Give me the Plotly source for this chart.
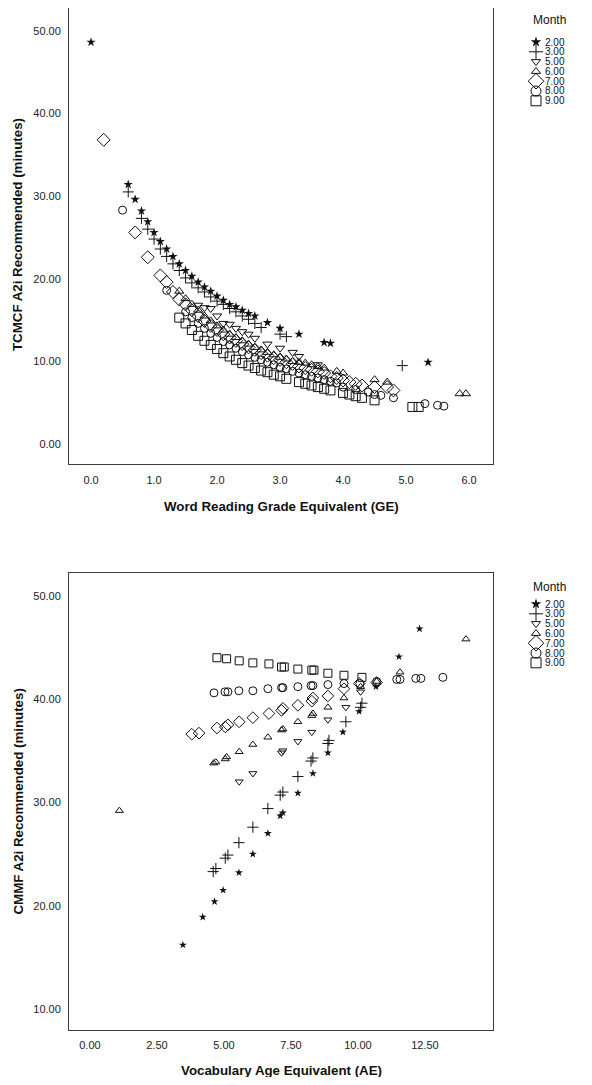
import plotly.graph_objects as go

# ---------------- data: top panel (Word Reading GE vs TCMCF minutes) ----------------
months = ["2.00", "3.00", "5.00", "6.00", "7.00", "8.00", "9.00"]

t2_x = [0.0, 0.59, 0.70, 0.80, 0.90, 1.0, 1.1, 1.2, 1.3, 1.4, 1.5, 1.6, 1.7, 1.8, 1.9, 2.0,
        2.1, 2.2, 2.3, 2.4, 2.5, 2.6, 2.8, 3.0, 3.3, 3.7, 3.8, 5.35]
t2_y = [48.6, 31.4, 29.6, 28.2, 26.9, 25.6, 24.5, 23.6, 22.7, 21.8, 21.0, 20.3, 19.6, 19.0, 18.5, 17.9,
        17.4, 16.9, 16.6, 16.2, 15.8, 15.5, 14.7, 14.0, 13.3, 12.3, 12.2, 9.9]

t3_x = [0.59, 0.80, 0.90, 1.0, 1.1, 1.2, 1.3, 1.4, 1.5, 1.6, 1.7, 1.8, 1.9, 2.0, 2.1, 2.2,
        2.3, 2.4, 2.5, 2.6, 2.7, 3.0, 3.1, 4.94]
t3_y = [30.5, 27.3, 26.0, 24.8, 23.6, 22.7, 21.8, 21.0, 20.1, 19.5, 18.9, 18.4, 17.8, 17.3, 16.9, 16.4,
        16.0, 15.5, 15.1, 14.6, 14.1, 13.3, 13.0, 9.5]

t5_x = [1.7, 1.8, 1.9, 2.0, 2.1, 2.2, 2.3, 2.4, 2.5, 2.6, 2.8, 3.0, 3.2, 3.3, 3.6]
t5_y = [16.8, 16.5, 16.4, 15.5, 14.6, 14.5, 14.0, 13.6, 13.3, 12.8, 12.1, 11.6, 11.1, 10.6, 9.6]

t6_x = [1.4, 1.5, 1.6, 1.7, 1.8, 1.9, 2.0, 2.1, 2.2, 2.3, 2.4, 2.5, 2.6, 2.7, 2.8, 2.9,
        3.0, 3.1, 3.2, 3.3, 3.4, 3.5, 3.6, 3.7, 3.9, 4.0, 4.5, 4.7, 5.85, 5.95]
t6_y = [18.5, 17.6, 16.9, 16.2, 15.5, 14.9, 14.3, 13.8, 13.3, 12.9, 12.5, 12.1, 11.7, 11.4, 11.1, 10.8,
        10.5, 10.3, 10.0, 9.9, 9.8, 9.6, 9.4, 9.2, 8.8, 8.6, 7.8, 7.5, 6.1, 6.1]

t7_x = [0.2, 0.7, 0.9, 1.1, 1.2, 1.3, 1.4, 1.5, 1.6, 1.7, 1.8, 1.9, 2.0, 2.1, 2.2, 2.3,
        2.4, 2.5, 2.6, 2.7, 2.8, 2.9, 3.0, 3.1, 3.2, 3.3, 3.4, 3.5, 3.6, 3.7, 3.8, 3.9,
        4.0, 4.1, 4.2, 4.3, 4.5, 4.7, 4.8]
t7_y = [36.8, 25.6, 22.6, 20.4, 19.6, 18.4, 17.5, 16.9, 16.2, 15.5, 14.9, 14.3, 13.8, 13.3, 12.9, 12.5,
        12.1, 11.7, 11.4, 11.0, 10.7, 10.4, 10.2, 9.9, 9.7, 9.4, 9.2, 9.0, 8.8, 8.6, 8.2, 8.0,
        7.7, 7.5, 7.3, 7.1, 6.9, 6.9, 6.5]

t8_x = [0.5, 1.2, 1.5, 1.6, 1.7, 1.8, 1.9, 2.0, 2.1, 2.2, 2.3, 2.4, 2.5, 2.6, 2.7, 2.8,
        2.9, 3.0, 3.1, 3.2, 3.3, 3.4, 3.5, 3.6, 3.7, 3.8, 3.9, 4.0, 4.2, 4.4, 4.5, 4.6,
        4.8, 5.3, 5.5, 5.6]
t8_y = [28.3, 18.6, 16.0, 15.3, 14.6, 14.0, 13.4, 12.9, 12.4, 12.0, 11.6, 11.2, 10.8, 10.5, 10.2, 9.9,
        9.6, 9.3, 9.1, 8.8, 8.6, 8.4, 8.2, 8.0, 7.8, 7.6, 7.4, 6.9, 6.6, 6.3, 6.0, 5.9,
        5.6, 4.9, 4.7, 4.6]

t9_x = [1.4, 1.5, 1.6, 1.7, 1.8, 1.9, 2.0, 2.1, 2.2, 2.3, 2.4, 2.5, 2.6, 2.7, 2.8, 2.9,
        3.0, 3.1, 3.3, 3.4, 3.5, 3.6, 3.7, 3.8, 4.0, 4.1, 4.2, 4.3, 4.5, 5.1, 5.2]
t9_y = [15.3, 14.6, 13.8, 13.1, 12.5, 12.0, 11.5, 11.0, 10.6, 10.2, 9.8, 9.5, 9.2, 8.9, 8.7, 8.4,
        8.2, 7.9, 7.5, 7.3, 7.1, 6.9, 6.7, 6.5, 6.2, 6.0, 5.8, 5.6, 5.3, 4.5, 4.5]

# ---------------- data: bottom panel (Vocabulary AE vs CMMF minutes) ----------------
b2_x = [3.47, 4.21, 4.65, 4.97, 5.56, 6.08, 6.64, 7.10, 7.20, 7.76, 8.32, 8.88, 9.44, 10.04, 10.67, 11.53, 12.30]
b2_y = [16.2, 18.9, 20.4, 21.5, 23.2, 25.0, 27.0, 28.7, 29.0, 30.9, 32.8, 34.8, 36.8, 38.8, 41.2, 44.1, 46.8]

b3_x = [4.60, 4.70, 5.05, 5.15, 5.56, 6.08, 6.64, 7.10, 7.20, 7.76, 8.25, 8.32, 8.88, 8.92, 9.55, 10.10, 10.15]
b3_y = [23.3, 23.6, 24.6, 24.9, 26.1, 27.6, 29.4, 30.7, 31.0, 32.5, 34.0, 34.3, 35.7, 36.0, 37.8, 39.2, 39.6]

b5_x = [5.57, 6.08, 7.15, 7.20, 7.76, 8.28, 8.88, 9.55, 10.10]
b5_y = [32.0, 32.8, 34.8, 35.0, 35.9, 36.8, 38.0, 39.2, 40.7]

b6_x = [1.10, 4.62, 4.70, 5.05, 5.10, 5.57, 6.08, 6.64, 7.15, 7.20, 7.76, 8.28, 8.32, 8.88, 9.48, 10.10, 10.70, 11.57, 14.03]
b6_y = [29.2, 33.8, 33.9, 34.2, 34.4, 34.9, 35.6, 36.3, 37.0, 37.1, 37.8, 38.4, 38.6, 39.2, 40.1, 41.2, 41.7, 42.6, 45.8]

b7_x = [3.80, 4.07, 4.74, 5.05, 5.15, 5.57, 6.08, 6.68, 7.15, 7.20, 7.76, 8.28, 8.32, 8.88, 9.48, 10.05, 10.70]
b7_y = [36.6, 36.7, 37.2, 37.3, 37.5, 37.8, 38.2, 38.6, 38.9, 39.1, 39.4, 39.8, 40.1, 40.3, 41.0, 41.5, 41.6]

b8_x = [4.63, 5.04, 5.15, 5.56, 6.08, 6.64, 7.15, 7.20, 7.76, 8.25, 8.32, 8.88, 9.48, 10.07, 10.70,
        11.45, 11.57, 12.16, 12.35, 13.17]
b8_y = [40.6, 40.7, 40.7, 40.8, 40.8, 41.0, 41.1, 41.1, 41.2, 41.3, 41.3, 41.4, 41.5, 41.5, 41.7,
        41.9, 41.9, 42.0, 42.0, 42.1]

b9_x = [4.74, 5.10, 5.57, 6.08, 6.68, 7.15, 7.25, 7.76, 8.28, 8.36, 8.88, 9.48, 10.15]
b9_y = [44.0, 43.9, 43.7, 43.5, 43.4, 43.1, 43.1, 42.9, 42.8, 42.8, 42.5, 42.3, 42.1]

top_x_ticks = [0.0, 1.0, 2.0, 3.0, 4.0, 5.0, 6.0]
top_y_ticks = [0.0, 10.0, 20.0, 30.0, 40.0, 50.0]
bot_x_ticks = [0.0, 2.5, 5.0, 7.5, 10.0, 12.5]
bot_y_ticks = [10.0, 20.0, 30.0, 40.0, 50.0]

# ---------------- styling / page geometry ----------------
PAGE_W, PAGE_H = 592, 1085
BODY = 8                       # default html body margin around the plot div
W, H = PAGE_W - 2 * BODY, PAGE_H - 2 * BODY
FONT = "Liberation Sans, Arial, Helvetica, sans-serif"
INK = "#111111"
FRAME = "#3a3a3a"

symbols = ["star", "cross-thin-open", "triangle-down-open", "triangle-up-open",
           "diamond-open", "circle-open", "square-open"]
top_sizes = [7, 8, 8, 8, 10, 8, 9]
bot_sizes = [6, 8, 7, 7, 9, 8, 8]
leg_sizes = [8, 10, 8, 8, 12, 10, 10]


def marker(i, size):
    if symbols[i] == "star":
        return dict(symbol="star", size=size, color=INK, line=dict(width=0))
    return dict(symbol=symbols[i], size=size, color=INK, line=dict(color=INK, width=1))


fig = go.Figure()

top_series = [(t2_x, t2_y), (t3_x, t3_y), (t5_x, t5_y), (t6_x, t6_y),
              (t7_x, t7_y), (t8_x, t8_y), (t9_x, t9_y)]
bot_series = [(b2_x, b2_y), (b3_x, b3_y), (b5_x, b5_y), (b6_x, b6_y),
              (b7_x, b7_y), (b8_x, b8_y), (b9_x, b9_y)]

for i, (xs, ys) in enumerate(top_series):
    fig.add_trace(go.Scatter(x=xs, y=ys, mode="markers", name=months[i],
                             marker=marker(i, top_sizes[i]), showlegend=False,
                             xaxis="x", yaxis="y"))
for i, (xs, ys) in enumerate(bot_series):
    fig.add_trace(go.Scatter(x=xs, y=ys, mode="markers", name=months[i],
                             marker=marker(i, bot_sizes[i]), showlegend=False,
                             xaxis="x2", yaxis="y2"))

# page-pixel layout of the two frames
PL, PR = 69, 493
TOP_T, TOP_B = 8, 464
BOT_T, BOT_B = 573, 1030


def px_x(p):
    return min(1.0, max(0.0, (p - BODY) / W))


def px_y(p):
    return min(1.0, max(0.0, 1 - (p - BODY) / H))


# manual legends (legend symbol positions in page-pixel space via helper axis)
LEG_MARK_X = 536
LEG_TEXT_X = 543
LEG_TITLE_X = 531
LEG_STEP = 9.8
legends = [(20, 42), (587, 604)]  # (title y, first item y)

annotations = []
for (ty, iy) in legends:
    annotations.append(dict(text="Month", x=px_x(LEG_TITLE_X), y=px_y(ty), xref="paper", yref="paper",
                            xanchor="left", yanchor="middle", showarrow=False,
                            font=dict(family=FONT, size=12, color=INK)))
    for i, m in enumerate(months):
        yy = iy + i * LEG_STEP
        annotations.append(dict(text=m, x=px_x(LEG_TEXT_X), y=px_y(yy), xref="paper", yref="paper",
                                xanchor="left", yanchor="middle", showarrow=False,
                                font=dict(family=FONT, size=10, color=INK)))
        fig.add_trace(go.Scatter(x=[LEG_MARK_X], y=[yy], mode="markers",
                                 marker=marker(i, leg_sizes[i]), showlegend=False,
                                 hoverinfo="skip", xaxis="x3", yaxis="y3"))

# axis titles
TITLE_SIZE = 13.3
annotations += [
    dict(text="<b>Word Reading Grade Equivalent (GE)</b>", x=px_x((PL + PR) / 2), y=px_y(507),
         xref="paper", yref="paper", showarrow=False, xanchor="center", yanchor="middle",
         font=dict(family=FONT, size=TITLE_SIZE, color=INK)),
    dict(text="<b>TCMCF A2i Recommended (minutes)</b>", x=px_x(18), y=px_y((6 + TOP_B) / 2),
         xref="paper", yref="paper", showarrow=False, xanchor="center", yanchor="middle",
         textangle=-90, font=dict(family=FONT, size=TITLE_SIZE, color=INK)),
    dict(text="<b>Vocabulary Age Equivalent (AE)</b>", x=px_x((PL + PR) / 2), y=px_y(1070),
         xref="paper", yref="paper", showarrow=False, xanchor="center", yanchor="middle",
         font=dict(family=FONT, size=TITLE_SIZE, color=INK)),
    dict(text="<b>CMMF A2i Recommended (minutes)</b>", x=px_x(18), y=px_y((BOT_T + BOT_B) / 2),
         xref="paper", yref="paper", showarrow=False, xanchor="center", yanchor="middle",
         textangle=-90, font=dict(family=FONT, size=TITLE_SIZE, color=INK)),
]

axis_common = dict(showgrid=False, zeroline=False, showline=True, mirror=True,
                   linecolor=FRAME, linewidth=1, ticks="",
                   tickfont=dict(family=FONT, size=11, color="#222222"))

fig.update_layout(
    width=W, height=H, margin=dict(l=0, r=0, t=0, b=0),
    paper_bgcolor="white", plot_bgcolor="rgba(0,0,0,0)",
    font=dict(family=FONT, color=INK),
    showlegend=False,
    annotations=annotations,
    xaxis=dict(domain=[px_x(PL), px_x(PR)], range=[-0.35, 6.38], tickvals=top_x_ticks,
               tickformat=".1f", anchor="y", ticklabelstandoff=6, **axis_common),
    yaxis=dict(domain=[px_y(TOP_B), px_y(TOP_T)], range=[-2.4, 52.74], tickvals=top_y_ticks,
               tickformat=".2f", anchor="x", ticklabelstandoff=5, **axis_common),
    xaxis2=dict(domain=[px_x(PL), px_x(PR)], range=[-0.78, 15.04], tickvals=bot_x_ticks,
                tickformat=".2f", anchor="y2", ticklabelstandoff=5, **axis_common),
    yaxis2=dict(domain=[px_y(BOT_B), px_y(BOT_T)], range=[7.97, 52.2], tickvals=bot_y_ticks,
                tickformat=".2f", anchor="x2", ticklabelstandoff=5, **axis_common),
    xaxis3=dict(domain=[0, 1], range=[BODY, BODY + W], visible=False, anchor="y3", fixedrange=True),
    yaxis3=dict(domain=[0, 1], range=[BODY + H, BODY], visible=False, anchor="x3", fixedrange=True),
)

fig.write_html("out.html")
